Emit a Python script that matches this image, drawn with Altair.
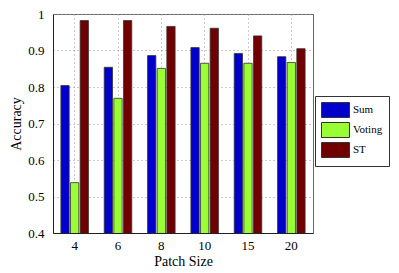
import altair as alt
import pandas as pd

patch_sizes = ["4", "6", "8", "10", "15", "20"]
series = ["Sum", "Voting", "ST"]
sum_vals = [0.804, 0.854, 0.886, 0.908, 0.892, 0.883]
voting_vals = [0.538, 0.769, 0.851, 0.865, 0.865, 0.867]
st_vals = [0.982, 0.982, 0.966, 0.961, 0.940, 0.905]
colors = ["#0000CC", "#99FF33", "#700000"]

rows = []
for name, vals in zip(series, [sum_vals, voting_vals, st_vals]):
    for p, v in zip(patch_sizes, vals):
        rows.append({"Patch Size": p, "Method": name, "Accuracy": v})
df = pd.DataFrame(rows)

font = "Times New Roman, Liberation Serif, serif"

bars = alt.Chart(df).mark_bar(stroke="#333333", strokeWidth=0.8, clip=True).encode(
    x=alt.X("Patch Size:N", sort=patch_sizes,
            scale=alt.Scale(paddingInner=0, paddingOuter=0),
            axis=alt.Axis(title="Patch Size", labelAngle=0, grid=True, bandPosition=0.5,
                          gridDash=[1, 3], gridColor="#999999", tickSize=0,
                          labelPadding=6, titlePadding=2)),
    xOffset=alt.XOffset("Method:N", sort=series,
                        scale=alt.Scale(paddingInner=0.14, paddingOuter=0.82)),
    y=alt.Y("Accuracy:Q", scale=alt.Scale(domain=[0.4, 1], zero=False, nice=False),
            axis=alt.Axis(title="Accuracy", values=[0.4, 0.5, 0.6, 0.7, 0.8, 0.9, 1.0],
                          format="~g", grid=True, gridDash=[1, 3], gridColor="#999999",
                          tickSize=0, labelPadding=9, titlePadding=4)),
    color=alt.Color("Method:N", sort=series,
                    scale=alt.Scale(domain=series, range=colors),
                    legend=alt.Legend(title=None, orient="none", legendX=262, legendY=82,
                                      symbolType="M-1,-1L2.73,-1L2.73,1L-1,1Z",
                                      symbolSize=225, symbolStrokeColor="#333333",
                                      symbolStrokeWidth=1, symbolOpacity=1,
                                      labelOffset=16, rowPadding=0,
                                      strokeColor="#333333", fillColor="white",
                                      padding=6, labelFont=font, labelFontSize=11,
                                      labelColor="black")),
)

chart = bars.properties(
    width=260, height=219,
    autosize=alt.AutoSizeParams(type="none"),
    padding={"left": 45, "top": 6, "right": 78, "bottom": 36},
).configure_axis(
    labelFont=font, titleFont=font, labelFontSize=13, titleFontSize=14,
    titleFontWeight="normal", labelColor="black", titleColor="black",
    domainColor="#222222",
).configure_view(stroke="#666666", strokeWidth=1)

chart.save("out.html", embed_options={"renderer": "svg", "actions": False})
